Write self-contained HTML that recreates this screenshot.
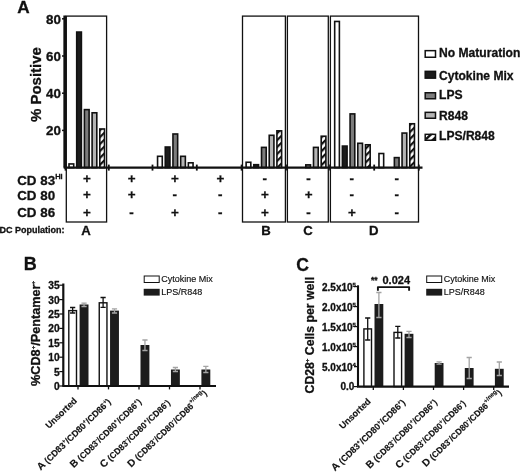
<!DOCTYPE html><html><head><meta charset="utf-8"><title>Figure</title>
<style>html,body{margin:0;padding:0;background:#fff}svg{display:block}text{font-family:"Liberation Sans",Arial,sans-serif;fill:#111}.b{font-weight:bold;stroke:#111;stroke-width:0.3px}</style></head><body>
<svg width="520" height="472" viewBox="0 0 520 472">
<defs><pattern id="h" width="4.9" height="4.9" patternUnits="userSpaceOnUse" patternTransform="rotate(-45)"><rect width="4.9" height="4.9" fill="#fff"/><rect width="4.9" height="2.2" fill="#111"/></pattern></defs>
<rect width="520" height="472" fill="#fff"/>
<text class="b" x="17.2" y="12.5" font-size="17.2">A</text>
<rect x="66.3" y="16.1" width="40.30" height="205.90" fill="none" stroke="#111" stroke-width="1.3"/>
<rect x="242.5" y="16.1" width="42.90" height="205.90" fill="none" stroke="#111" stroke-width="1.3"/>
<rect x="287.4" y="16.1" width="40.90" height="205.90" fill="none" stroke="#111" stroke-width="1.3"/>
<rect x="330.4" y="16.1" width="88.10" height="205.90" fill="none" stroke="#111" stroke-width="1.3"/>
<rect x="69.00" y="163.94" width="4.7" height="3.66" fill="#fff" stroke="#111" stroke-width="1.6"/>
<rect x="76.70" y="32.06" width="4.7" height="135.54" fill="#1c1c1c" stroke="#111" stroke-width="1.6"/>
<rect x="84.40" y="109.62" width="4.7" height="57.98" fill="#7c7c7c" stroke="#111" stroke-width="1.6"/>
<rect x="92.10" y="112.79" width="4.7" height="54.81" fill="#b4b4b4" stroke="#111" stroke-width="1.6"/>
<rect x="99.80" y="128.97" width="4.7" height="38.63" fill="url(#h)" stroke="#111" stroke-width="1.6"/>
<rect x="157.56" y="156.31" width="4.7" height="11.29" fill="#fff" stroke="#111" stroke-width="1.6"/>
<rect x="165.26" y="147.01" width="4.7" height="20.59" fill="#1c1c1c" stroke="#111" stroke-width="1.6"/>
<rect x="172.96" y="133.99" width="4.7" height="33.61" fill="#7c7c7c" stroke="#111" stroke-width="1.6"/>
<rect x="180.66" y="156.31" width="4.7" height="11.29" fill="#b4b4b4" stroke="#111" stroke-width="1.6"/>
<rect x="188.36" y="162.82" width="4.7" height="4.78" fill="#fff" stroke="#111" stroke-width="1.6"/>
<rect x="246.12" y="162.26" width="4.7" height="5.34" fill="#fff" stroke="#111" stroke-width="1.6"/>
<rect x="253.82" y="164.68" width="4.7" height="2.92" fill="#1c1c1c" stroke="#111" stroke-width="1.6"/>
<rect x="261.52" y="147.38" width="4.7" height="20.22" fill="#7c7c7c" stroke="#111" stroke-width="1.6"/>
<rect x="269.22" y="135.29" width="4.7" height="32.31" fill="#b4b4b4" stroke="#111" stroke-width="1.6"/>
<rect x="276.92" y="130.83" width="4.7" height="36.77" fill="url(#h)" stroke="#111" stroke-width="1.6"/>
<rect x="305.80" y="164.87" width="4.7" height="2.73" fill="#7c7c7c" stroke="#111" stroke-width="1.6"/>
<rect x="313.50" y="147.38" width="4.7" height="20.22" fill="#b4b4b4" stroke="#111" stroke-width="1.6"/>
<rect x="321.20" y="136.22" width="4.7" height="31.38" fill="url(#h)" stroke="#111" stroke-width="1.6"/>
<rect x="334.68" y="21.46" width="4.7" height="146.14" fill="#fff" stroke="#111" stroke-width="1.6"/>
<rect x="342.38" y="146.08" width="4.7" height="21.52" fill="#1c1c1c" stroke="#111" stroke-width="1.6"/>
<rect x="350.08" y="113.90" width="4.7" height="53.70" fill="#7c7c7c" stroke="#111" stroke-width="1.6"/>
<rect x="357.78" y="143.29" width="4.7" height="24.31" fill="#b4b4b4" stroke="#111" stroke-width="1.6"/>
<rect x="365.48" y="144.78" width="4.7" height="22.82" fill="url(#h)" stroke="#111" stroke-width="1.6"/>
<rect x="378.96" y="153.52" width="4.7" height="14.08" fill="#fff" stroke="#111" stroke-width="1.6"/>
<rect x="394.36" y="157.61" width="4.7" height="9.99" fill="#7c7c7c" stroke="#111" stroke-width="1.6"/>
<rect x="402.06" y="133.06" width="4.7" height="34.54" fill="#b4b4b4" stroke="#111" stroke-width="1.6"/>
<rect x="409.76" y="123.76" width="4.7" height="43.84" fill="url(#h)" stroke="#111" stroke-width="1.6"/>
<line x1="64.7" y1="15.5" x2="64.7" y2="167.6" stroke="#111" stroke-width="2.7"/>
<line x1="63.7" y1="167.6" x2="422.5" y2="167.6" stroke="#111" stroke-width="2.1"/>
<line x1="65.5" y1="164.6" x2="65.5" y2="170.6" stroke="#111" stroke-width="1.8"/>
<line x1="108.8" y1="164.6" x2="108.8" y2="170.6" stroke="#111" stroke-width="1.8"/>
<line x1="152.5" y1="164.6" x2="152.5" y2="170.6" stroke="#111" stroke-width="1.8"/>
<line x1="196.8" y1="164.6" x2="196.8" y2="170.6" stroke="#111" stroke-width="1.8"/>
<line x1="241.6" y1="164.6" x2="241.6" y2="170.6" stroke="#111" stroke-width="1.8"/>
<line x1="286" y1="164.6" x2="286" y2="170.6" stroke="#111" stroke-width="1.8"/>
<line x1="330.1" y1="164.6" x2="330.1" y2="170.6" stroke="#111" stroke-width="1.8"/>
<line x1="374.2" y1="164.6" x2="374.2" y2="170.6" stroke="#111" stroke-width="1.8"/>
<line x1="418.8" y1="164.6" x2="418.8" y2="170.6" stroke="#111" stroke-width="1.8"/>
<line x1="62" y1="130.40" x2="65" y2="130.40" stroke="#111" stroke-width="1.5"/>
<text class="b" x="61" y="135.20" font-size="13.4" text-anchor="end">20</text>
<line x1="62" y1="93.20" x2="65" y2="93.20" stroke="#111" stroke-width="1.5"/>
<text class="b" x="61" y="98.00" font-size="13.4" text-anchor="end">40</text>
<line x1="62" y1="56.00" x2="65" y2="56.00" stroke="#111" stroke-width="1.5"/>
<text class="b" x="61" y="60.80" font-size="13.4" text-anchor="end">60</text>
<line x1="62" y1="18.80" x2="65" y2="18.80" stroke="#111" stroke-width="1.5"/>
<text class="b" x="61" y="23.60" font-size="13.4" text-anchor="end">80</text>
<text class="b" font-size="15" text-anchor="middle" transform="translate(40.8,84.6) rotate(-90)">% Positive</text>
<text class="b" x="17.2" y="184.8" font-size="13.4">CD 83<tspan font-size="7.5" dy="-5.9">Hi</tspan></text>
<text class="b" x="17.2" y="200.4" font-size="13.4">CD 80</text>
<text class="b" x="17.2" y="217" font-size="13.4">CD 86</text>
<text class="b" x="-0.5" y="232.6" font-size="9">DC Population:</text>
<text class="b" x="86.80" y="183.10" font-size="13.4" text-anchor="middle">+</text>
<text class="b" x="86.80" y="199.20" font-size="13.4" text-anchor="middle">+</text>
<text class="b" x="86.80" y="216.80" font-size="13.4" text-anchor="middle">+</text>
<text class="b" x="131.60" y="183.10" font-size="13.4" text-anchor="middle">+</text>
<text class="b" x="131.60" y="199.20" font-size="13.4" text-anchor="middle">+</text>
<text class="b" x="131.50" y="216.60" font-size="13.4" text-anchor="middle">-</text>
<text class="b" x="174.80" y="183.10" font-size="13.4" text-anchor="middle">+</text>
<text class="b" x="174.70" y="199.00" font-size="13.4" text-anchor="middle">-</text>
<text class="b" x="174.80" y="216.80" font-size="13.4" text-anchor="middle">+</text>
<text class="b" x="220.30" y="183.10" font-size="13.4" text-anchor="middle">+</text>
<text class="b" x="220.20" y="199.00" font-size="13.4" text-anchor="middle">-</text>
<text class="b" x="220.20" y="216.60" font-size="13.4" text-anchor="middle">-</text>
<text class="b" x="264.80" y="182.90" font-size="13.4" text-anchor="middle">-</text>
<text class="b" x="264.90" y="199.20" font-size="13.4" text-anchor="middle">+</text>
<text class="b" x="264.90" y="216.80" font-size="13.4" text-anchor="middle">+</text>
<text class="b" x="308.50" y="182.90" font-size="13.4" text-anchor="middle">-</text>
<text class="b" x="308.60" y="199.20" font-size="13.4" text-anchor="middle">+</text>
<text class="b" x="308.50" y="216.60" font-size="13.4" text-anchor="middle">-</text>
<text class="b" x="351.70" y="182.90" font-size="13.4" text-anchor="middle">-</text>
<text class="b" x="351.70" y="199.00" font-size="13.4" text-anchor="middle">-</text>
<text class="b" x="351.80" y="216.80" font-size="13.4" text-anchor="middle">+</text>
<text class="b" x="396.80" y="182.90" font-size="13.4" text-anchor="middle">-</text>
<text class="b" x="396.80" y="199.00" font-size="13.4" text-anchor="middle">-</text>
<text class="b" x="396.80" y="216.60" font-size="13.4" text-anchor="middle">-</text>
<text class="b" x="86" y="235.1" font-size="13.2" text-anchor="middle">A</text>
<text class="b" x="266" y="234.6" font-size="13.2" text-anchor="middle">B</text>
<text class="b" x="308" y="234.6" font-size="13.2" text-anchor="middle">C</text>
<text class="b" x="373.7" y="234.6" font-size="13.2" text-anchor="middle">D</text>
<rect x="425.2" y="50.65" width="10.3" height="6.60" fill="#fff" stroke="#111" stroke-width="1.5"/>
<text class="b" x="439" y="57.4" font-size="12.1">No Maturation</text>
<rect x="425.2" y="71.35" width="10.3" height="6.80" fill="#1c1c1c" stroke="#111" stroke-width="1.5"/>
<text class="b" x="439" y="79.8" font-size="12.1">Cytokine Mix</text>
<rect x="425.2" y="92.75" width="10.3" height="6.00" fill="#7c7c7c" stroke="#111" stroke-width="1.5"/>
<text class="b" x="439" y="99.1" font-size="12.1">LPS</text>
<rect x="425.2" y="112.35" width="10.3" height="5.90" fill="#b4b4b4" stroke="#111" stroke-width="1.5"/>
<text class="b" x="439" y="119.7" font-size="12.1">R848</text>
<rect x="425.2" y="134.35" width="10.3" height="5.90" fill="#fff" stroke="#111" stroke-width="1.5"/>
<path d="M425.5 138.10 L430 133.80 L433.5 133.80 L426.5 140.30 Z" fill="#111"/>
<path d="M431 140.00 L435.5 135.80 L435.5 140.00 Z" fill="#111"/>
<text class="b" x="439" y="140.3" font-size="12.1">LPS/R848</text>
<text class="b" x="23.8" y="269.7" font-size="18">B</text>
<rect x="68.80" y="310.60" width="7.7" height="75.40" fill="#fff" stroke="#111" stroke-width="1.4"/>
<path d="M72.65 307.5V313M70.05000000000001 307.5H75.25M70.05000000000001 313H75.25" stroke="#111" stroke-width="1.3" fill="none"/>
<rect x="79.60" y="304.50" width="8.9" height="81.50" fill="#1c1c1c"/>
<path d="M84.05 303.2V306.5M81.45 303.2H86.64999999999999M81.45 306.5H86.64999999999999" stroke="#a4a4a4" stroke-width="1.3" fill="none"/>
<rect x="99.25" y="302.80" width="7.7" height="83.20" fill="#fff" stroke="#111" stroke-width="1.4"/>
<path d="M103.1 297.5V307.3M100.5 297.5H105.69999999999999M100.5 307.3H105.69999999999999" stroke="#111" stroke-width="1.3" fill="none"/>
<rect x="110.05" y="310.60" width="8.9" height="75.40" fill="#1c1c1c"/>
<path d="M114.5 308.8V313M111.9 308.8H117.1M111.9 313H117.1" stroke="#a4a4a4" stroke-width="1.3" fill="none"/>
<rect x="140.50" y="345.00" width="8.9" height="41.00" fill="#1c1c1c"/>
<path d="M144.95 340V350.5M142.35 340H147.54999999999998M142.35 350.5H147.54999999999998" stroke="#a4a4a4" stroke-width="1.3" fill="none"/>
<rect x="170.95" y="369.50" width="8.9" height="16.50" fill="#1c1c1c"/>
<path d="M175.4 367.5V371.5M172.8 367.5H178.0M172.8 371.5H178.0" stroke="#a4a4a4" stroke-width="1.3" fill="none"/>
<rect x="201.40" y="369.50" width="8.9" height="16.50" fill="#1c1c1c"/>
<path d="M205.85 366.3V372.5M203.25 366.3H208.45M203.25 372.5H208.45" stroke="#a4a4a4" stroke-width="1.3" fill="none"/>
<line x1="63.3" y1="283.5" x2="63.3" y2="386.0" stroke="#111" stroke-width="2.2"/>
<line x1="62.3" y1="386.0" x2="216" y2="386.0" stroke="#111" stroke-width="2.2"/>
<line x1="59.3" y1="386.00" x2="63.3" y2="386.00" stroke="#111" stroke-width="1.2"/>
<text class="b" x="59.699999999999996" y="390.00" font-size="10.2" text-anchor="end">0</text>
<line x1="59.3" y1="371.60" x2="63.3" y2="371.60" stroke="#111" stroke-width="1.2"/>
<text class="b" x="59.699999999999996" y="375.60" font-size="10.2" text-anchor="end">5</text>
<line x1="59.3" y1="357.20" x2="63.3" y2="357.20" stroke="#111" stroke-width="1.2"/>
<text class="b" x="59.699999999999996" y="361.20" font-size="10.2" text-anchor="end">10</text>
<line x1="59.3" y1="342.80" x2="63.3" y2="342.80" stroke="#111" stroke-width="1.2"/>
<text class="b" x="59.699999999999996" y="346.80" font-size="10.2" text-anchor="end">15</text>
<line x1="59.3" y1="328.40" x2="63.3" y2="328.40" stroke="#111" stroke-width="1.2"/>
<text class="b" x="59.699999999999996" y="332.40" font-size="10.2" text-anchor="end">20</text>
<line x1="59.3" y1="314.00" x2="63.3" y2="314.00" stroke="#111" stroke-width="1.2"/>
<text class="b" x="59.699999999999996" y="318.00" font-size="10.2" text-anchor="end">25</text>
<line x1="59.3" y1="299.60" x2="63.3" y2="299.60" stroke="#111" stroke-width="1.2"/>
<text class="b" x="59.699999999999996" y="303.60" font-size="10.2" text-anchor="end">30</text>
<line x1="59.3" y1="285.20" x2="63.3" y2="285.20" stroke="#111" stroke-width="1.2"/>
<text class="b" x="59.699999999999996" y="289.20" font-size="10.2" text-anchor="end">35</text>
<line x1="78.0" y1="386.0" x2="78.0" y2="389.4" stroke="#111" stroke-width="1.3"/>
<line x1="108.5" y1="386.0" x2="108.5" y2="389.4" stroke="#111" stroke-width="1.3"/>
<line x1="139.0" y1="386.0" x2="139.0" y2="389.4" stroke="#111" stroke-width="1.3"/>
<line x1="169.5" y1="386.0" x2="169.5" y2="389.4" stroke="#111" stroke-width="1.3"/>
<line x1="200.0" y1="386.0" x2="200.0" y2="389.4" stroke="#111" stroke-width="1.3"/>
<text class="b" style="stroke-width:0.15px" font-size="9" text-anchor="end" transform="translate(77.50,401.50) rotate(-44)">Unsorted</text>
<text class="b" style="stroke-width:0.15px" font-size="8.9" text-anchor="end" transform="translate(111.50,402.50) rotate(-44)"><tspan font-size="10.2">A</tspan> (CD83<tspan font-size="5.5" dy="-3.4">+</tspan><tspan dy="3.4" font-size="5.5">&#8203;</tspan>/CD80<tspan font-size="5.5" dy="-3.4">+</tspan><tspan dy="3.4" font-size="5.5">&#8203;</tspan>/CD86<tspan font-size="5.5" dy="-3.4">+</tspan><tspan dy="3.4" font-size="5.5">&#8203;</tspan>)</text>
<text class="b" style="stroke-width:0.15px" font-size="8.65" text-anchor="end" transform="translate(142.00,402.50) rotate(-44)"><tspan font-size="10.2">B</tspan> (CD83<tspan font-size="5.5" dy="-3.4">-</tspan><tspan dy="3.4" font-size="5.5">&#8203;</tspan>/CD80<tspan font-size="5.5" dy="-3.4">+</tspan><tspan dy="3.4" font-size="5.5">&#8203;</tspan>/CD86<tspan font-size="5.5" dy="-3.4">+</tspan><tspan dy="3.4" font-size="5.5">&#8203;</tspan>)</text>
<text class="b" style="stroke-width:0.15px" font-size="8.65" text-anchor="end" transform="translate(170.80,403.50) rotate(-44)"><tspan font-size="10.2">C</tspan> (CD83<tspan font-size="5.5" dy="-3.4">-</tspan><tspan dy="3.4" font-size="5.5">&#8203;</tspan>/CD80<tspan font-size="5.5" dy="-3.4">+</tspan><tspan dy="3.4" font-size="5.5">&#8203;</tspan>/CD86<tspan font-size="5.5" dy="-3.4">-</tspan><tspan dy="3.4" font-size="5.5">&#8203;</tspan>)</text>
<text class="b" style="stroke-width:0.15px" font-size="8.65" text-anchor="end" transform="translate(207.50,394.00) rotate(-44)"><tspan font-size="10.2">D</tspan> (CD83<tspan font-size="5.5" dy="-3.4">-</tspan><tspan dy="3.4" font-size="5.5">&#8203;</tspan>/CD80<tspan font-size="5.5" dy="-3.4">-</tspan><tspan dy="3.4" font-size="5.5">&#8203;</tspan>/CD86<tspan font-size="6" dy="-4.4">+/neg</tspan><tspan dy="4.4" font-size="6">&#8203;</tspan>)</text>
<text class="b" font-size="12.7" text-anchor="middle" transform="translate(39.6,333.5) rotate(-90)">%CD8<tspan font-size="6" dy="-5">+</tspan><tspan dy="5">/Pentamer</tspan><tspan font-size="6" dy="-5">+</tspan></text>
<rect x="144.2" y="276" width="15" height="6.5" fill="#fff" stroke="#111" stroke-width="1"/>
<rect x="143.7" y="288.8" width="16" height="6.8" fill="#1c1c1c"/>
<text x="161.2" y="281.9" font-size="9" stroke="#111" stroke-width="0.15">Cytokine Mix</text>
<text x="161.2" y="294.9" font-size="9" stroke="#111" stroke-width="0.15">LPS/R848</text>
<text class="b" x="296.2" y="270.5" font-size="17.6">C</text>
<rect x="363.90" y="328.90" width="7.6000000000000005" height="57.70" fill="#fff" stroke="#111" stroke-width="1.4"/>
<path d="M367.7 318V340M365.09999999999997 318H370.3M365.09999999999997 340H370.3" stroke="#111" stroke-width="1.3" fill="none"/>
<rect x="374.50" y="304.00" width="8.8" height="82.60" fill="#1c1c1c"/>
<path d="M378.9 292.5V317.5M376.29999999999995 292.5H381.5M376.29999999999995 317.5H381.5" stroke="#a4a4a4" stroke-width="1.3" fill="none"/>
<rect x="394.00" y="332.40" width="7.6000000000000005" height="54.20" fill="#fff" stroke="#111" stroke-width="1.4"/>
<path d="M397.8 326.3V338M395.2 326.3H400.40000000000003M395.2 338H400.40000000000003" stroke="#111" stroke-width="1.3" fill="none"/>
<rect x="404.60" y="333.80" width="8.8" height="52.80" fill="#1c1c1c"/>
<path d="M409.0 331.3V337.5M406.4 331.3H411.6M406.4 337.5H411.6" stroke="#a4a4a4" stroke-width="1.3" fill="none"/>
<rect x="434.70" y="363.00" width="8.8" height="23.60" fill="#1c1c1c"/>
<path d="M439.1 361.8V364.2M436.5 361.8H441.70000000000005M436.5 364.2H441.70000000000005" stroke="#a4a4a4" stroke-width="1.3" fill="none"/>
<rect x="464.80" y="368.00" width="8.8" height="18.60" fill="#1c1c1c"/>
<path d="M469.2 357.5V378.5M466.59999999999997 357.5H471.8M466.59999999999997 378.5H471.8" stroke="#a4a4a4" stroke-width="1.3" fill="none"/>
<rect x="494.90" y="368.80" width="8.8" height="17.80" fill="#1c1c1c"/>
<path d="M499.3 362V375.5M496.7 362H501.90000000000003M496.7 375.5H501.90000000000003" stroke="#a4a4a4" stroke-width="1.3" fill="none"/>
<line x1="358" y1="285.3" x2="358" y2="386.6" stroke="#111" stroke-width="2.1"/>
<line x1="357" y1="386.6" x2="509" y2="386.6" stroke="#111" stroke-width="2.2"/>
<line x1="354" y1="386.60" x2="358" y2="386.60" stroke="#111" stroke-width="1.2"/>
<text class="b" x="354.4" y="390.10" font-size="10" text-anchor="end">0.0</text>
<line x1="354" y1="366.60" x2="358" y2="366.60" stroke="#111" stroke-width="1.2"/>
<text class="b" x="322" y="370.90" font-size="10">5.0x10<tspan font-size="6" dy="-3.5">4</tspan></text>
<line x1="354" y1="346.60" x2="358" y2="346.60" stroke="#111" stroke-width="1.2"/>
<text class="b" x="322" y="350.90" font-size="10">1.0x10<tspan font-size="6" dy="-3.5">5</tspan></text>
<line x1="354" y1="326.60" x2="358" y2="326.60" stroke="#111" stroke-width="1.2"/>
<text class="b" x="322" y="330.90" font-size="10">1.5x10<tspan font-size="6" dy="-3.5">5</tspan></text>
<line x1="354" y1="306.60" x2="358" y2="306.60" stroke="#111" stroke-width="1.2"/>
<text class="b" x="322" y="310.90" font-size="10">2.0x10<tspan font-size="6" dy="-3.5">5</tspan></text>
<line x1="354" y1="286.60" x2="358" y2="286.60" stroke="#111" stroke-width="1.2"/>
<text class="b" x="322" y="290.90" font-size="10">2.5x10<tspan font-size="6" dy="-3.5">5</tspan></text>
<line x1="373.3" y1="386.6" x2="373.3" y2="390.0" stroke="#111" stroke-width="1.3"/>
<line x1="403.40000000000003" y1="386.6" x2="403.40000000000003" y2="390.0" stroke="#111" stroke-width="1.3"/>
<line x1="433.5" y1="386.6" x2="433.5" y2="390.0" stroke="#111" stroke-width="1.3"/>
<line x1="463.6" y1="386.6" x2="463.6" y2="390.0" stroke="#111" stroke-width="1.3"/>
<line x1="493.70000000000005" y1="386.6" x2="493.70000000000005" y2="390.0" stroke="#111" stroke-width="1.3"/>
<text class="b" style="stroke-width:0.15px" font-size="9" text-anchor="end" transform="translate(371.30,402.10) rotate(-44)">Unsorted</text>
<text class="b" style="stroke-width:0.15px" font-size="8.9" text-anchor="end" transform="translate(405.90,403.10) rotate(-44)"><tspan font-size="10.2">A</tspan> (CD83<tspan font-size="5.5" dy="-3.4">+</tspan><tspan dy="3.4" font-size="5.5">&#8203;</tspan>/CD80<tspan font-size="5.5" dy="-3.4">+</tspan><tspan dy="3.4" font-size="5.5">&#8203;</tspan>/CD86<tspan font-size="5.5" dy="-3.4">+</tspan><tspan dy="3.4" font-size="5.5">&#8203;</tspan>)</text>
<text class="b" style="stroke-width:0.15px" font-size="8.65" text-anchor="end" transform="translate(437.80,403.10) rotate(-44)"><tspan font-size="10.2">B</tspan> (CD83<tspan font-size="5.5" dy="-3.4">-</tspan><tspan dy="3.4" font-size="5.5">&#8203;</tspan>/CD80<tspan font-size="5.5" dy="-3.4">+</tspan><tspan dy="3.4" font-size="5.5">&#8203;</tspan>/CD86<tspan font-size="5.5" dy="-3.4">+</tspan><tspan dy="3.4" font-size="5.5">&#8203;</tspan>)</text>
<text class="b" style="stroke-width:0.15px" font-size="8.65" text-anchor="end" transform="translate(466.40,404.10) rotate(-44)"><tspan font-size="10.2">C</tspan> (CD83<tspan font-size="5.5" dy="-3.4">-</tspan><tspan dy="3.4" font-size="5.5">&#8203;</tspan>/CD80<tspan font-size="5.5" dy="-3.4">+</tspan><tspan dy="3.4" font-size="5.5">&#8203;</tspan>/CD86<tspan font-size="5.5" dy="-3.4">-</tspan><tspan dy="3.4" font-size="5.5">&#8203;</tspan>)</text>
<text class="b" style="stroke-width:0.15px" font-size="8.65" text-anchor="end" transform="translate(502.20,393.60) rotate(-44)"><tspan font-size="10.2">D</tspan> (CD83<tspan font-size="5.5" dy="-3.4">-</tspan><tspan dy="3.4" font-size="5.5">&#8203;</tspan>/CD80<tspan font-size="5.5" dy="-3.4">-</tspan><tspan dy="3.4" font-size="5.5">&#8203;</tspan>/CD86<tspan font-size="6" dy="-4.4">+/neg</tspan><tspan dy="4.4" font-size="6">&#8203;</tspan>)</text>
<text class="b" font-size="12.25" text-anchor="middle" transform="translate(314.4,335.2) rotate(-90)">CD28<tspan font-size="6" dy="-5">+</tspan><tspan dy="5"> Cells per well</tspan></text>
<rect x="426.7" y="276" width="15" height="6.5" fill="#fff" stroke="#111" stroke-width="1"/>
<rect x="426.2" y="288.8" width="16" height="6.8" fill="#1c1c1c"/>
<text x="443.7" y="281.9" font-size="9" stroke="#111" stroke-width="0.15">Cytokine Mix</text>
<text x="443.7" y="294.9" font-size="9" stroke="#111" stroke-width="0.15">LPS/R848</text>
<path d="M377.9 290.8V287.1H409.1V290.8" stroke="#111" stroke-width="1.9" stroke-linejoin="round" fill="none"/>
<text class="b" x="371" y="282.6" font-size="8.5">**</text>
<text class="b" x="382.5" y="283.5" font-size="11">0.024</text>
</svg></body></html>
